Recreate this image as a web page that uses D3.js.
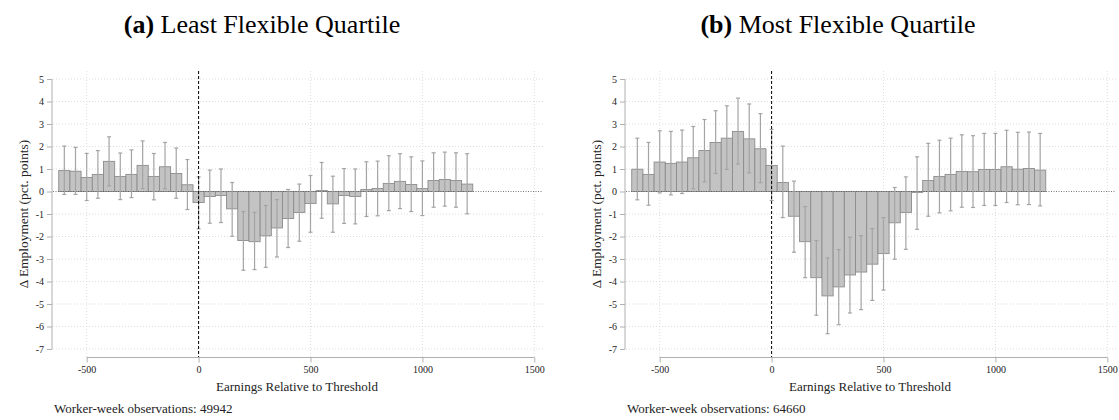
<!DOCTYPE html>
<html>
<head>
<meta charset="utf-8">
<script src="https://cdn.jsdelivr.net/npm/d3@7"></script>
<style>
  body { margin: 0; background: #fff; }
  svg { display: block; }
</style>
</head>
<body>
<div id="chart"></div>
<script>
// bin centres (earnings relative to threshold)
const bins = d3.range(-600, 1201, 50);

// (a) least flexible quartile
const leastEst = [0.93, 0.90, 0.62, 0.76, 1.34, 0.67, 0.76, 1.16, 0.67, 1.10, 0.80, 0.30,
  -0.49, -0.22, -0.18, -0.77, -2.18, -2.23, -1.97, -1.62, -1.20, -0.93, -0.53, 0.04, -0.55,
  -0.18, -0.22, 0.09, 0.13, 0.36, 0.45, 0.31, 0.13, 0.49, 0.53, 0.49, 0.33];
const leastLo = [-0.13, -0.13, -0.40, -0.30, 0.25, -0.36, -0.27, 0.13, -0.37, 0.12, -0.30, -0.80,
  -1.66, -1.41, -1.38, -1.99, -3.50, -3.47, -3.37, -2.91, -2.49, -2.21, -1.81, -1.19, -1.81,
  -1.42, -1.44, -1.11, -1.08, -0.85, -0.76, -0.89, -1.07, -0.70, -0.65, -0.70, -0.99];
const leastHi = [2.02, 1.96, 1.69, 1.82, 2.43, 1.71, 1.85, 2.25, 1.69, 2.18, 1.93, 1.42,
  0.65, 0.95, 1.00, 0.40, -0.89, -0.93, -0.62, -0.36, 0.09, 0.33, 0.71, 1.29, 0.68,
  1.02, 1.00, 1.32, 1.35, 1.59, 1.68, 1.54, 1.36, 1.72, 1.75, 1.72, 1.68];

// (b) most flexible quartile
const mostEst = [0.99, 0.76, 1.31, 1.25, 1.31, 1.50, 1.82, 2.18, 2.37, 2.67, 2.34, 1.90,
  1.16, 0.40, -1.10, -2.23, -3.83, -4.64, -4.24, -3.71, -3.58, -3.23, -2.76, -1.39, -0.93,
  -0.04, 0.49, 0.67, 0.76, 0.89, 0.88, 0.98, 0.98, 1.10, 0.99, 1.02, 0.95];
const mostLo = [-0.37, -0.61, -0.06, -0.15, -0.09, 0.12, 0.43, 0.80, 0.98, 1.22, 0.83, 0.39,
  -0.40, -1.16, -2.70, -3.83, -5.50, -6.32, -5.92, -5.40, -5.25, -4.84, -4.38, -3.01, -2.57,
  -1.68, -1.10, -0.95, -0.86, -0.70, -0.71, -0.62, -0.62, -0.49, -0.59, -0.58, -0.64];
const mostHi = [2.37, 2.18, 2.70, 2.67, 2.73, 2.89, 3.20, 3.59, 3.81, 4.15, 3.89, 3.46,
  2.76, 2.02, 0.46, -0.67, -2.18, -2.95, -2.58, -2.03, -1.96, -1.65, -1.16, 0.18, 0.65,
  1.54, 2.14, 2.28, 2.37, 2.52, 2.48, 2.58, 2.58, 2.72, 2.63, 2.64, 2.58];

const xTicks = [-500, 0, 500, 1000, 1500];
const yTicks = d3.range(-7, 6);

const panels = [
  { letter: "(a)", title: "Least Flexible Quartile", est: leastEst, lo: leastLo, hi: leastHi, obs: "49942", left: 0, titleX: 262 },
  { letter: "(b)", title: "Most Flexible Quartile", est: mostEst, lo: mostLo, hi: mostHi, obs: "64660", left: 573, titleX: 265 }
];

const width = 1119, height = 420;
const svg = d3.select("#chart").append("svg")
  .attr("width", width)
  .attr("height", height);

const serif = "'Liberation Serif', 'Times New Roman', serif";
const binW = 50;
const minus = d => d < 0 ? "-" + Math.abs(d) : String(d);

panels.forEach(p => {
  const g = svg.append("g").attr("transform", `translate(${p.left},0)`);

  // plot region
  const x = d3.scaleLinear().domain([-500, 1500]).range([86.7, 534.3]);
  const y = d3.scaleLinear().domain([-7, 5]).range([349, 79]);
  const plotL = 53, plotR = 543, plotT = 71;

  // title
  const t = g.append("text")
    .attr("x", p.titleX).attr("y", 33)
    .attr("text-anchor", "middle")
    .attr("font-family", serif)
    .attr("font-size", 26)
    .attr("fill", "#000");
  t.append("tspan").attr("font-weight", "bold").text(p.letter + " ");
  t.append("tspan").text(p.title);

  // horizontal grid
  g.append("g").selectAll("line")
    .data(yTicks.filter(d => d !== 0))
    .join("line")
    .attr("x1", plotL).attr("x2", plotR)
    .attr("y1", d => y(d)).attr("y2", d => y(d))
    .attr("stroke", "#d4d4d4").attr("stroke-width", 0.8)
    .attr("stroke-dasharray", "1,2");

  // vertical grid
  g.append("g").selectAll("line")
    .data(xTicks.filter(d => d !== 0))
    .join("line")
    .attr("x1", d => x(d)).attr("x2", d => x(d))
    .attr("y1", plotT).attr("y2", 357)
    .attr("stroke", "#d4d4d4").attr("stroke-width", 0.8)
    .attr("stroke-dasharray", "1,2");

  // bars
  const data = bins.map((b, i) => ({ b, est: p.est[i], lo: p.lo[i], hi: p.hi[i] }));
  const bw = x(binW) - x(0);
  g.append("g").selectAll("rect")
    .data(data)
    .join("rect")
    .attr("x", d => x(d.b) - bw / 2)
    .attr("width", bw)
    .attr("y", d => y(Math.max(0, d.est)))
    .attr("height", d => Math.abs(y(d.est) - y(0)))
    .attr("fill", "#c3c3c3")
    .attr("stroke", "#8c8c8c")
    .attr("stroke-width", 0.9);

  // zero reference line
  g.append("line")
    .attr("x1", plotL).attr("x2", plotR)
    .attr("y1", y(0)).attr("y2", y(0))
    .attr("stroke", "#555").attr("stroke-width", 0.8)
    .attr("stroke-dasharray", "1,1.5");

  // error bars
  const eb = g.append("g").attr("stroke", "#a4a4a4").attr("stroke-width", 1.2);
  eb.selectAll("line.v")
    .data(data)
    .join("line").attr("class", "v")
    .attr("x1", d => x(d.b)).attr("x2", d => x(d.b))
    .attr("y1", d => y(d.lo)).attr("y2", d => y(d.hi));
  eb.selectAll("line.hi")
    .data(data)
    .join("line").attr("class", "hi")
    .attr("x1", d => x(d.b) - 2).attr("x2", d => x(d.b) + 2)
    .attr("y1", d => y(d.hi)).attr("y2", d => y(d.hi));
  eb.selectAll("line.lo")
    .data(data)
    .join("line").attr("class", "lo")
    .attr("x1", d => x(d.b) - 2).attr("x2", d => x(d.b) + 2)
    .attr("y1", d => y(d.lo)).attr("y2", d => y(d.lo));

  // threshold line
  g.append("line")
    .attr("x1", x(0)).attr("x2", x(0))
    .attr("y1", plotT).attr("y2", 357)
    .attr("stroke", "#000").attr("stroke-width", 1)
    .attr("stroke-dasharray", "3,2");

  // y axis
  const yAxis = g.append("g")
    .attr("transform", "translate(52,0)")
    .call(d3.axisLeft(y).tickValues(yTicks).tickFormat(minus).tickSize(5).tickPadding(3));
  yAxis.select(".domain").attr("stroke", "#b0b0b0").attr("d", `M0,${y(5)}V${y(-7)}`);
  yAxis.selectAll(".tick line").attr("stroke", "#b0b0b0");
  yAxis.selectAll(".tick text").attr("font-family", serif).attr("font-size", 10).attr("fill", "#222");

  // x axis
  const xAxis = g.append("g")
    .attr("transform", "translate(0,357.5)")
    .call(d3.axisBottom(x).tickValues(xTicks).tickFormat(minus).tickSize(5).tickPadding(3));
  xAxis.select(".domain").attr("stroke", "#b0b0b0").attr("d", `M${x(-500)},0H${x(1500)}`);
  xAxis.selectAll(".tick line").attr("stroke", "#b0b0b0");
  xAxis.selectAll(".tick text").attr("font-family", serif).attr("font-size", 10).attr("fill", "#222");

  // axis titles
  g.append("text")
    .attr("x", 297).attr("y", 391)
    .attr("text-anchor", "middle")
    .attr("font-family", serif).attr("font-size", 13).attr("fill", "#222")
    .text("Earnings Relative to Threshold");

  g.append("text")
    .attr("transform", `translate(28,${y(-1)}) rotate(-90)`)
    .attr("text-anchor", "middle")
    .attr("font-family", serif).attr("font-size", 13.4).attr("fill", "#222")
    .text("Δ Employment (pct. points)");

  g.append("text")
    .attr("x", 54).attr("y", 413)
    .attr("font-family", serif).attr("font-size", 13).attr("fill", "#222")
    .text("Worker-week observations: " + p.obs);
});
</script>
</body>
</html>
